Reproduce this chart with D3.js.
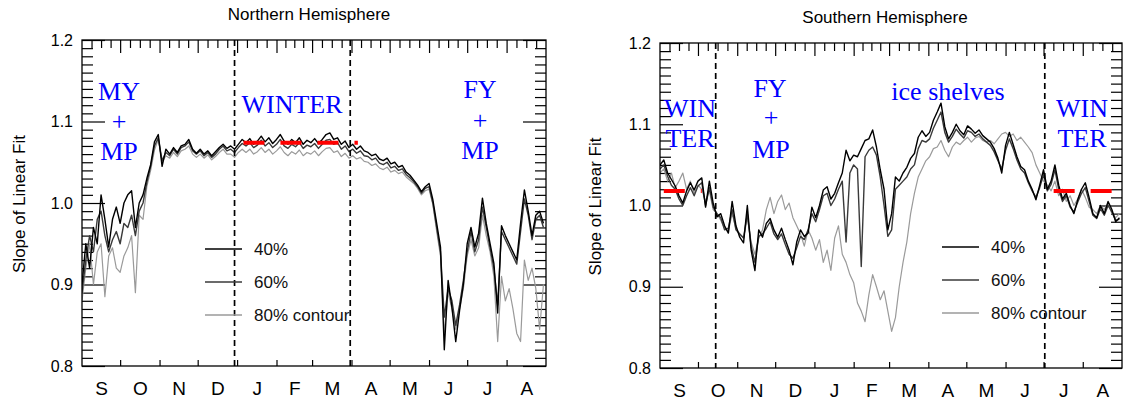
<!DOCTYPE html>
<html>
<head>
<meta charset="utf-8">
<script src="https://cdn.jsdelivr.net/npm/d3@7"></script>
<style>
body { margin: 0; background: #fff; }
</style>
</head>
<body>
<div id="chart-area"></div>
<script>

// months from September to August
var months = ["S", "O", "N", "D", "J", "F", "M", "A", "M", "J", "J", "A"];
var monthDays = [30, 31, 30, 31, 31, 28, 31, 30, 31, 30, 31, 31];
var yMajor = [0.8, 0.9, 1.0, 1.1, 1.2];

// one value every 3 days, starting 1 September
var dayStep = 3;

var nh40 = [
  0.90,0.95,0.92,0.97,0.95,1.01,0.98,0.946,0.98,0.995,
  0.975,1.0,1.01,1.015,0.97,1.0,1.01,1.03,1.047,1.075,
  1.084,1.045,1.066,1.06,1.068,1.062,1.07,1.072,1.078,1.066,
  1.061,1.066,1.06,1.064,1.058,1.063,1.068,1.072,1.067,1.07,
  1.066,1.072,1.078,1.074,1.079,1.072,1.076,1.082,1.075,1.08,
  1.073,1.078,1.084,1.076,1.072,1.078,1.074,1.08,1.072,1.077,
  1.074,1.079,1.073,1.078,1.084,1.086,1.078,1.08,1.072,1.076,
  1.068,1.072,1.066,1.07,1.064,1.062,1.058,1.06,1.054,1.052,
  1.055,1.048,1.05,1.044,1.046,1.038,1.034,1.028,1.022,1.014,
  1.02,1.024,1.004,0.975,0.946,0.82,0.905,0.872,0.83,0.868,
  0.9,0.95,0.97,0.946,0.963,1.006,0.975,0.95,0.926,0.865,
  0.972,0.96,0.95,0.94,0.93,0.975,1.016,0.99,0.96,0.985,
  0.99,0.975];
var nh60 = [
  0.89,0.93,0.96,0.94,0.98,0.99,0.96,0.94,0.955,0.965,
  0.95,0.975,0.97,0.985,0.96,0.99,1.0,1.025,1.045,1.07,
  1.08,1.052,1.062,1.058,1.066,1.06,1.068,1.07,1.075,1.064,
  1.06,1.064,1.058,1.062,1.056,1.06,1.066,1.07,1.064,1.066,
  1.062,1.068,1.073,1.07,1.074,1.068,1.071,1.077,1.07,1.074,
  1.068,1.072,1.078,1.07,1.067,1.072,1.069,1.074,1.067,1.071,
  1.069,1.073,1.067,1.072,1.077,1.078,1.072,1.074,1.066,1.07,
  1.063,1.066,1.061,1.064,1.058,1.057,1.053,1.055,1.049,1.047,
  1.05,1.043,1.045,1.04,1.042,1.035,1.031,1.026,1.02,1.012,
  1.018,1.02,1.0,0.97,0.94,0.86,0.895,0.88,0.85,0.875,
  0.905,0.94,0.965,0.94,0.955,0.995,0.97,0.945,0.92,0.875,
  0.965,0.955,0.945,0.935,0.925,0.965,1.005,0.985,0.955,0.98,
  0.985,0.97];
var nh80 = [
  0.88,0.92,0.95,0.90,0.94,0.95,0.885,0.935,0.945,0.92,
  0.915,0.935,0.945,0.96,0.89,0.985,0.98,1.02,1.04,1.065,
  1.078,1.05,1.058,1.055,1.062,1.057,1.064,1.066,1.07,1.06,
  1.056,1.06,1.055,1.059,1.053,1.057,1.062,1.066,1.06,1.06,
  1.056,1.062,1.066,1.062,1.066,1.06,1.063,1.068,1.062,1.066,
  1.06,1.064,1.069,1.062,1.058,1.063,1.06,1.065,1.058,1.062,
  1.06,1.064,1.058,1.063,1.067,1.068,1.062,1.064,1.057,1.061,
  1.055,1.058,1.054,1.056,1.051,1.05,1.046,1.048,1.043,1.041,
  1.044,1.038,1.04,1.036,1.038,1.032,1.028,1.024,1.018,1.01,
  1.015,1.017,0.998,0.965,0.935,0.84,0.89,0.87,0.845,0.87,
  0.895,0.935,0.955,0.935,0.945,0.985,0.96,0.94,0.91,0.83,
  0.91,0.88,0.895,0.87,0.84,0.83,0.93,0.905,0.92,0.895,
  0.845,0.9];

var sh40 = [
  1.05,1.056,1.04,1.032,1.024,1.012,1.003,1.018,1.028,1.019,
  1.03,1.034,0.998,1.03,1.003,0.986,0.99,0.975,0.966,1.005,
  0.975,0.961,0.954,1.0,0.945,0.92,0.97,0.961,0.978,0.984,
  0.97,0.961,0.972,0.958,0.945,0.927,0.955,0.97,0.962,0.966,
  0.998,0.985,1.0,1.019,1.023,1.008,1.015,1.028,1.04,1.068,
  1.055,1.062,1.06,1.07,1.08,1.082,1.093,1.072,1.044,1.02,
  0.97,0.99,1.035,1.03,1.04,1.047,1.058,1.064,1.084,1.092,
  1.085,1.09,1.105,1.115,1.126,1.097,1.082,1.09,1.1,1.092,
  1.087,1.098,1.094,1.089,1.093,1.086,1.082,1.078,1.07,1.058,
  1.04,1.074,1.09,1.075,1.06,1.048,1.044,1.03,1.02,1.007,
  1.025,1.044,1.02,1.03,1.05,1.025,1.008,1.015,1.0,0.99,
  1.007,1.02,1.028,1.01,0.99,0.985,1.0,0.99,1.005,0.995,
  0.98,0.985];
var sh60 = [
  1.045,1.05,1.036,1.025,1.02,1.008,1.0,1.012,1.022,1.012,
  1.024,1.028,1.0,1.022,0.998,0.99,0.985,0.97,0.972,0.995,
  0.97,0.965,0.96,0.99,0.95,0.93,0.962,0.965,0.972,0.98,
  0.965,0.958,0.965,0.952,0.94,0.935,0.948,0.962,0.958,0.97,
  0.99,0.98,0.995,1.012,1.015,1.0,1.008,1.02,1.03,0.955,
  1.04,1.05,1.045,0.925,1.06,1.068,1.072,1.062,1.035,1.0,
  0.962,0.97,1.02,1.025,1.03,1.035,1.045,1.05,1.07,1.08,
  1.078,1.082,1.095,1.105,1.115,1.09,1.078,1.085,1.094,1.088,
  1.083,1.092,1.09,1.085,1.088,1.082,1.078,1.074,1.066,1.055,
  1.045,1.068,1.082,1.07,1.056,1.045,1.04,1.028,1.018,1.01,
  1.022,1.038,1.018,1.026,1.044,1.02,1.005,1.012,0.998,0.992,
  1.004,1.015,1.022,1.005,0.988,0.984,0.996,0.988,1.0,0.992,
  0.982,0.983];
var sh80 = [
  1.04,1.045,1.03,1.04,1.022,1.03,1.04,1.02,1.03,1.015,
  1.025,1.02,1.005,1.018,0.995,0.99,0.982,0.972,0.968,0.99,
  0.972,0.965,0.96,0.985,0.955,0.94,0.96,0.97,0.995,1.01,
  0.99,1.005,1.013,0.995,1.003,0.985,0.975,0.965,0.95,0.97,
  0.96,0.945,0.958,0.93,0.945,0.92,0.96,0.975,0.94,0.93,
  0.915,0.905,0.88,0.87,0.857,0.89,0.915,0.9,0.884,0.895,
  0.87,0.845,0.862,0.9,0.93,0.955,0.99,1.015,1.035,1.045,
  1.055,1.06,1.07,1.072,1.08,1.068,1.06,1.072,1.078,1.075,
  1.08,1.084,1.078,1.083,1.085,1.08,1.078,1.08,1.076,1.082,
  1.088,1.09,1.085,1.088,1.08,1.084,1.078,1.072,1.065,1.05,
  1.04,1.03,1.025,1.018,1.03,1.012,1.02,1.005,1.012,1.0,
  1.008,1.02,1.01,0.998,0.995,0.99,1.0,0.995,1.003,0.99,
  0.985,0.99];

var legendLabels = ["40%", "60%", "80% contour"];

// season boundaries (day from 1 Sep) and the red "winter" levels
var nhSeasonDays = [120, 211];
var shSeasonDays = [44, 304];
var nhWinter = [{from: 127, to: 217, level: 1.074}];
var shWinter = [{from: 3, to: 33, level: 1.018}, {from: 311, to: 357, level: 1.018}];

var sans = "'Liberation Sans', Arial, sans-serif";
var serif = "'Liberation Serif', 'Times New Roman', serif";
var lineColors = ["#000", "#3a3a3a", "#9a9a9a"];

var svg = d3.select("#chart-area").append("svg")
    .attr("width", 1125)
    .attr("height", 403)
    .style("background", "#fff");

var monthStarts = [0].concat(Array.from(d3.cumsum(monthDays)));
var monthMids = monthDays.map(function(n, i) { return monthStarts[i] + n / 2; });
var topTicks = [];
monthDays.forEach(function(n, i) {
    for (var j = 1; j < 4; j++) topTicks.push(monthStarts[i] + n * j / 4);
});
var yMinor = d3.range(81, 120).filter(function(k) { return k % 10 != 0; })
    .map(function(k) { return k / 100; });

function styleAxis(sel) {
    sel.select(".domain").remove();
    sel.selectAll("line").attr("stroke", "#000").attr("stroke-width", 1.2);
    sel.selectAll("text").attr("font-family", sans).attr("fill", "#000");
}

function drawPanel(p) {
    var x = d3.scaleLinear().domain([0, 365]).range([p.left, p.right]);
    var y = d3.scaleLinear().domain([0.8, 1.2]).range([p.bottom, p.top]);
    var g = svg.append("g");

    g.append("clipPath").attr("id", p.id + "-clip")
      .append("rect")
        .attr("x", p.left).attr("y", p.top)
        .attr("width", p.right - p.left).attr("height", p.bottom - p.top);

    // left axis with labels
    g.append("g")
        .attr("transform", "translate(" + p.left + ",0)")
        .call(d3.axisLeft(y).tickValues(yMajor).tickSizeInner(-23).tickSizeOuter(0)
            .tickPadding(9).tickFormat(d3.format(".1f")))
        .call(styleAxis)
        .selectAll("text").attr("font-size", 16);
    g.append("g")
        .attr("transform", "translate(" + p.left + ",0)")
        .call(d3.axisLeft(y).tickValues(yMinor).tickSizeInner(-11).tickSizeOuter(0).tickFormat(""))
        .call(styleAxis);
    // right axis
    g.append("g")
        .attr("transform", "translate(" + p.right + ",0)")
        .call(d3.axisRight(y).tickValues(yMajor).tickSizeInner(-23).tickSizeOuter(0).tickFormat(""))
        .call(styleAxis);
    g.append("g")
        .attr("transform", "translate(" + p.right + ",0)")
        .call(d3.axisRight(y).tickValues(yMinor).tickSizeInner(-11).tickSizeOuter(0).tickFormat(""))
        .call(styleAxis);
    // bottom: month boundaries + letters
    g.append("g")
        .attr("transform", "translate(0," + p.bottom + ")")
        .call(d3.axisBottom(x).tickValues(monthStarts.slice(1, 12)).tickSizeInner(-6).tickSizeOuter(0).tickFormat(""))
        .call(styleAxis);
    g.append("g")
        .attr("transform", "translate(0," + p.bottom + ")")
        .call(d3.axisBottom(x).tickValues(monthMids).tickSize(0).tickPadding(16)
            .tickFormat(function(d) { return months[monthMids.indexOf(d)]; }))
        .call(styleAxis)
        .selectAll("text").attr("font-size", 19);
    // top ticks
    g.append("g")
        .attr("transform", "translate(0," + p.top + ")")
        .call(d3.axisTop(x).tickValues(monthStarts.slice(1, 12)).tickSizeInner(-13).tickSizeOuter(0).tickFormat(""))
        .call(styleAxis);
    g.append("g")
        .attr("transform", "translate(0," + p.top + ")")
        .call(d3.axisTop(x).tickValues(topTicks).tickSizeInner(-8).tickSizeOuter(0).tickFormat(""))
        .call(styleAxis);

    // series, lightest first
    var line = d3.line()
        .x(function(d, i) { return x(i * dayStep); })
        .y(function(d) { return y(d); });
    var plot = g.append("g").attr("clip-path", "url(#" + p.id + "-clip)");
    [2, 1, 0].forEach(function(k) {
        plot.append("path")
            .datum(p.series[k])
            .attr("fill", "none")
            .attr("stroke", lineColors[k])
            .attr("stroke-width", k == 2 ? 1.2 : 1.4)
            .attr("stroke-linejoin", "round")
            .attr("d", line);
    });

    // red winter level
    p.winter.forEach(function(w) {
        g.append("line")
            .attr("x1", x(w.from)).attr("x2", x(w.to))
            .attr("y1", y(w.level)).attr("y2", y(w.level))
            .attr("stroke", "#f00")
            .attr("stroke-width", 4)
            .attr("stroke-dasharray", "21,16");
    });

    // season dividers
    p.seasons.forEach(function(d) {
        g.append("line")
            .attr("x1", x(d)).attr("x2", x(d))
            .attr("y1", p.top).attr("y2", p.bottom)
            .attr("stroke", "#000")
            .attr("stroke-width", 1.7)
            .attr("stroke-dasharray", "6,4");
    });

    // frame
    g.append("rect")
        .attr("x", p.left).attr("y", p.top)
        .attr("width", p.right - p.left).attr("height", p.bottom - p.top)
        .attr("fill", "none").attr("stroke", "#000").attr("stroke-width", 1.3);

    // titles
    g.append("text")
        .attr("x", (p.left + p.right) / 2 + p.titleShift)
        .attr("y", p.titleY)
        .attr("text-anchor", "middle")
        .attr("font-family", sans).attr("font-size", 17)
        .text(p.title);
    g.append("text")
        .attr("transform", "translate(" + p.yLabelX + "," + ((p.top + p.bottom) / 2 + 1) + ") rotate(-90)")
        .attr("text-anchor", "middle")
        .attr("dy", "0.35em")
        .attr("font-family", sans).attr("font-size", 17)
        .text("Slope of Linear Fit");

    // legend
    legendLabels.forEach(function(label, i) {
        var ly = p.legendY + i * 33;
        g.append("line")
            .attr("x1", p.legendX).attr("x2", p.legendX + 37)
            .attr("y1", ly).attr("y2", ly)
            .attr("stroke", lineColors[i]).attr("stroke-width", 1.4);
        g.append("text")
            .attr("x", p.legendX + 49).attr("y", ly + 6)
            .attr("font-family", sans).attr("font-size", 17)
            .attr("fill", "#111")
            .text(label);
    });

    // blue annotations
    p.notes.forEach(function(n) {
        g.append("text")
            .attr("x", n[1]).attr("y", n[2])
            .attr("text-anchor", "middle")
            .attr("font-family", serif).attr("font-size", 26)
            .attr("fill", "#0000ff")
            .text(n[0]);
    });
}

drawPanel({
    id: "nh", left: 82, right: 546, top: 40, bottom: 366,
    title: "Northern Hemisphere", titleShift: -5, titleY: 20, yLabelX: 19,
    series: [nh40, nh60, nh80], seasons: nhSeasonDays, winter: nhWinter,
    legendX: 205, legendY: 249,
    notes: [["MY", 119, 100], ["+", 119, 130], ["MP", 119, 160],
            ["WINTER", 292, 113],
            ["FY", 480, 98], ["+", 480, 129], ["MP", 480, 159]]
});

drawPanel({
    id: "sh", left: 660, right: 1122, top: 43, bottom: 368,
    title: "Southern Hemisphere", titleShift: -6, titleY: 23, yLabelX: 595,
    series: [sh40, sh60, sh80], seasons: shSeasonDays, winter: shWinter,
    legendX: 942, legendY: 247,
    notes: [["WIN", 690, 117], ["TER", 690, 147],
            ["FY", 770, 97], ["+", 771, 126], ["MP", 771, 158],
            ["ice shelves", 948, 100],
            ["WIN", 1082, 117], ["TER", 1082, 147]]
});

</script>
</body>
</html>
